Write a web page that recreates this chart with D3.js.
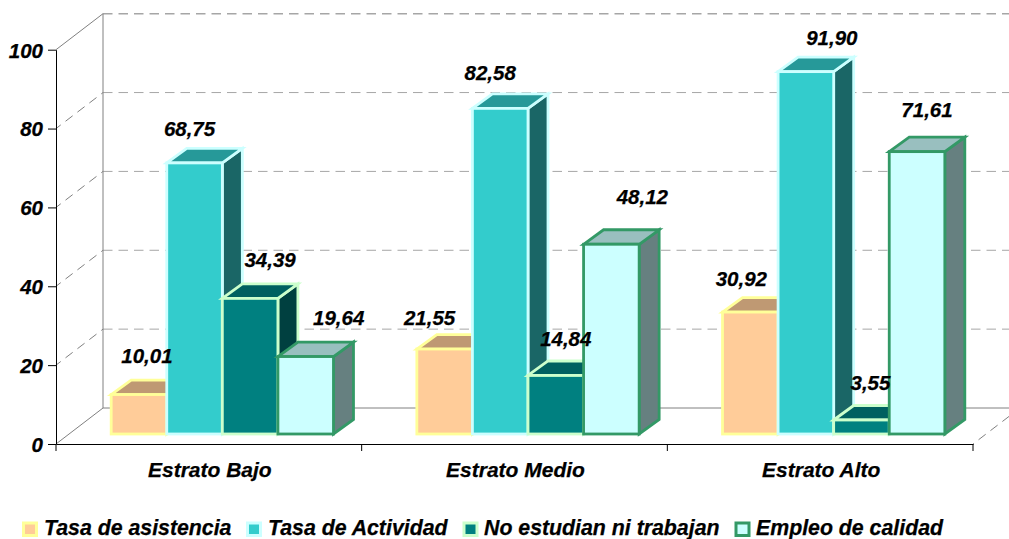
<!DOCTYPE html>
<html>
<head>
<meta charset="utf-8">
<script src="https://cdn.jsdelivr.net/npm/d3@7"></script>
<style>
  html, body { margin: 0; padding: 0; background: #fff; overflow: hidden; }
  text { font-family: "Liberation Sans", Arial, sans-serif; font-weight: bold; font-style: italic; fill: #000; stroke: #000; stroke-width: 0.25px; }
</style>
</head>
<body>
<svg id="chart"></svg>
<script>
var categories = ["Estrato Bajo", "Estrato Medio", "Estrato Alto"];
var seriesNames = ["Tasa de asistencia", "Tasa de Actividad", "No estudian ni trabajan", "Empleo de calidad"];
var asistencia = [10.01, 21.55, 30.92];
var actividad = [68.75, 82.58, 91.90];
var niNi = [34.39, 14.84, 3.55];
var empleo = [19.64, 48.12, 71.61];
var yTicks = [0, 20, 40, 60, 80, 100];

var seriesValues = [asistencia, actividad, niNi, empleo];

// fill, border, top face, side face
var fills = ["#FFCC99", "#33CCCC", "#008080", "#CCFFFF"];
var borders = ["#FFFF99", "#CCFFFF", "#CCFFCC", "#339966"];
var topFaces = ["#BF9973", "#269999", "#006060", "#99BFBF"];
var sideFaces = ["#80664D", "#1A6666", "#004040", "#668080"];

// hand placed labels in the original, offset from the bar's top centre [dx, dy]
var labelOffsets = [
  [[8, -32], [-15, -24], [-9, -26]],
  [[-5, -27], [-10, -28], [26, -27]],
  [[20, -31], [10, -29], [9, -30]],
  [[33, -32], [31, -40], [10, -35]]
];
var legendSwatchX = [23.5, 247.5, 464, 736];
var legendTextX = [44, 268, 484, 756];

var svgWidth = 1009;
var svgHeight = 539;
var wallDx = 47;
var wallDy = -36;
var frontDx = 13.5;
var frontDy = -10;
var barDx = 20;
var barDy = -14.5;

var svg = d3.select("#chart")
  .attr("width", svgWidth)
  .attr("height", svgHeight);

var xScale = d3.scaleBand().domain(categories).range([56, 973]);
var xInner = d3.scaleBand().domain(d3.range(4)).range([0, xScale.bandwidth()]).paddingInner(0).paddingOuter(0.75);
var yScale = d3.scaleLinear().domain([0, 100]).range([444, 49.7]);

// back wall and floor
var wall = svg.append("g").attr("class", "wall");
var leftX = xScale.range()[0];
var rightX = xScale.range()[1];

wall.selectAll(".grid")
  .data(yTicks)
  .enter()
  .append("line")
  .attr("x1", leftX + wallDx)
  .attr("x2", svgWidth)
  .attr("y1", function(d) { return yScale(d) + wallDy; })
  .attr("y2", function(d) { return yScale(d) + wallDy; })
  .style("stroke", function(d) { return d === 0 ? "#808080" : "#a6a6a6"; })
  .style("stroke-width", function(d) { return d === 100 ? 1.4 : 1; })
  .style("stroke-dasharray", function(d) { return d === 0 ? null : "9.5,6"; });

wall.selectAll(".diag")
  .data(yTicks)
  .enter()
  .append("line")
  .attr("x1", leftX)
  .attr("x2", leftX + wallDx)
  .attr("y1", function(d) { return yScale(d); })
  .attr("y2", function(d) { return yScale(d) + wallDy; })
  .style("stroke", "#808080")
  .style("stroke-width", 1)
  .style("stroke-dasharray", function(d) { return d === 0 || d === 100 ? null : "9,6"; })
  .style("stroke-dashoffset", -12);

wall.append("line")
  .attr("x1", leftX + wallDx)
  .attr("x2", leftX + wallDx)
  .attr("y1", yScale(100) + wallDy)
  .attr("y2", yScale(0) + wallDy)
  .style("stroke", "#808080");

wall.append("line")
  .attr("x1", rightX)
  .attr("x2", rightX + wallDx)
  .attr("y1", yScale(0))
  .attr("y2", yScale(0) + wallDy)
  .style("stroke", "#808080")
  .style("stroke-dasharray", "9,6")
  .style("stroke-dashoffset", -7);

// flatten to one record per bar, left to right so the faces overlap properly
var bars = [];
categories.forEach(function(cat, c) {
  seriesNames.forEach(function(name, s) {
    bars.push({ cat: cat, c: c, s: s, value: seriesValues[s][c] });
  });
});

function barX(d) { return xScale(d.cat) + xInner(d.s) + frontDx; }
function barTop(d) { return yScale(d.value) + frontDy; }
function barBase() { return yScale(0) + frontDy; }

var barGroups = svg.append("g").attr("class", "bars")
  .selectAll("g")
  .data(bars)
  .enter()
  .append("g");

barGroups.append("path")
  .attr("d", function(d) {
    var x = barX(d) + xInner.bandwidth(), t = barTop(d), b = barBase();
    return "M" + x + "," + t + "L" + (x + barDx) + "," + (t + barDy) + "L" + (x + barDx) + "," + (b + barDy) + "L" + x + "," + b + "Z";
  })
  .attr("fill", function(d) { return sideFaces[d.s]; });

barGroups.append("path")
  .attr("d", function(d) {
    var x = barX(d), w = xInner.bandwidth(), t = barTop(d);
    return "M" + x + "," + t + "L" + (x + barDx) + "," + (t + barDy) + "L" + (x + w + barDx) + "," + (t + barDy) + "L" + (x + w) + "," + t + "Z";
  })
  .attr("fill", function(d) { return topFaces[d.s]; });

barGroups.append("rect")
  .attr("x", barX)
  .attr("y", barTop)
  .attr("width", xInner.bandwidth())
  .attr("height", function(d) { return barBase() - barTop(d); })
  .attr("fill", function(d) { return fills[d.s]; });

barGroups.selectAll("path, rect")
  .attr("stroke", function(d) { return borders[d.s]; })
  .attr("stroke-width", 2.8)
  .attr("stroke-linejoin", "miter");

// axes
var yAxis = d3.axisLeft(yScale).tickValues(yTicks).tickSize(8).tickSizeOuter(0).tickPadding(5);
var yAxisG = svg.append("g")
  .attr("transform", "translate(" + leftX + ",0)")
  .call(yAxis);
yAxisG.selectAll("text").style("font-size", "20.5px").attr("dy", "0.36em");

var xAxis = d3.axisBottom(xScale).tickSize(0).tickPadding(18);
var xAxisG = svg.append("g")
  .attr("transform", "translate(0," + yScale(0) + ")")
  .call(xAxis);
xAxisG.selectAll("text").style("font-size", "21px").attr("dx", 1);

xAxisG.selectAll(".bound")
  .data([leftX].concat(categories.map(function(c) { return xScale(c) + xScale.bandwidth(); })))
  .enter()
  .append("line")
  .attr("x1", function(d) { return d; })
  .attr("x2", function(d) { return d; })
  .attr("y1", 0)
  .attr("y2", 7)
  .style("stroke", "#000");

svg.selectAll(".domain, .tick line").style("stroke", "#000");

// data labels
svg.append("g").selectAll("text")
  .data(bars)
  .enter()
  .append("text")
  .attr("x", function(d) { return barX(d) + xInner.bandwidth() / 2 + labelOffsets[d.s][d.c][0]; })
  .attr("y", function(d) { return barTop(d) + labelOffsets[d.s][d.c][1]; })
  .attr("text-anchor", "middle")
  .style("font-size", "20.5px")
  .text(function(d) { return d.value.toFixed(2).replace(".", ","); });

// legend
var legend = svg.append("g")
  .selectAll("g")
  .data(seriesNames)
  .enter()
  .append("g");

legend.append("rect")
  .attr("x", function(d, i) { return legendSwatchX[i]; })
  .attr("y", 523)
  .attr("width", 13)
  .attr("height", 12.5)
  .attr("fill", function(d, i) { return fills[i]; })
  .attr("stroke", function(d, i) { return borders[i]; })
  .attr("stroke-width", 3);

legend.append("text")
  .attr("x", function(d, i) { return legendTextX[i]; })
  .attr("y", 534.5)
  .style("font-size", "21.3px")
  .text(function(d) { return d; });
</script>
</body>
</html>
